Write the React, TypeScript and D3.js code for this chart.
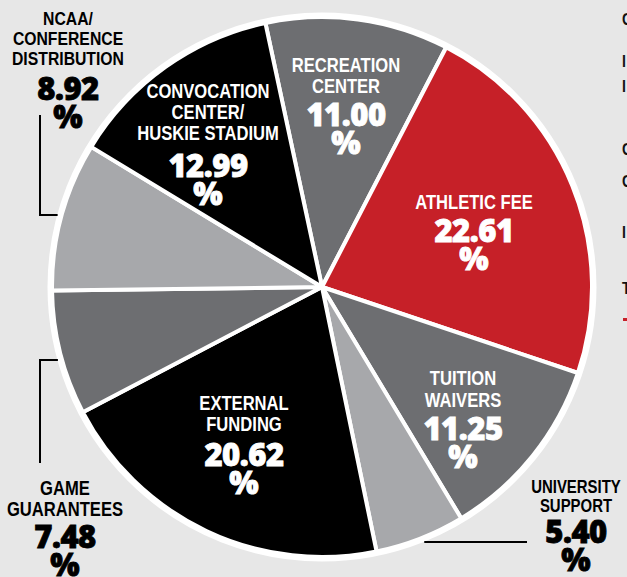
import React from "react";
import * as d3 from "d3";

// ---- data ----
const categories = [
  "RECREATION CENTER",
  "ATHLETIC FEE",
  "TUITION WAIVERS",
  "UNIVERSITY SUPPORT",
  "EXTERNAL FUNDING",
  "GAME GUARANTEES",
  "NCAA/CONFERENCE DISTRIBUTION",
  "CONVOCATION CENTER/HUSKIE STADIUM",
];
const values = [11.0, 22.61, 11.25, 5.4, 20.62, 7.48, 8.92, 12.99];
const labelLines = [
  ["RECREATION", "CENTER"],
  ["ATHLETIC FEE"],
  ["TUITION", "WAIVERS"],
  ["UNIVERSITY", "SUPPORT"],
  ["EXTERNAL", "FUNDING"],
  ["GAME", "GUARANTEES"],
  ["NCAA/", "CONFERENCE", "DISTRIBUTION"],
  ["CONVOCATION", "CENTER/", "HUSKIE STADIUM"],
];
const legendLetters = ["C", "I", "I", "C", "C", "I", "T"];

// ---- layout / style ----
const W = 627;
const H = 577;
const CX = 322;
const CY = 287;
const R = 270;
const START_DEG = -12.1;
const BG = "#e7e7e7";
const colors = ["#6d6e71", "#c62028", "#6d6e71", "#a7a8ab", "#000000", "#6d6e71", "#a7a8ab", "#000000"];
const inside = [true, true, true, false, true, false, false, true];
// anchor = first-line baseline (center x)
const anchors: [number, number][] = [
  [346, 72],
  [474, 209],
  [463, 385],
  [576, 493],
  [244, 410],
  [65, 495],
  [68, 25],
  [208, 98],
];
const lineFont = [20, 20, 20, 18, 20, 20, 19, 20];
const lineGap = [20.5, 20.5, 21.5, 19, 20.5, 20.5, 20, 21];
const numGap = [33, 33, 33, 31, 35, 32, 35, 37];
const pctGap = 28;
const legendBaselines = [25, 67, 92, 155, 187, 238, 294];
const NARROW = 0.83;

const LABEL_FONT = "'Liberation Sans', Arial, sans-serif";
const NUM_FONT = "'Open Sans', Lato, sans-serif";

export default function App() {
  const pie = d3
    .pie<number>()
    .sort(null)
    .value((d) => d)
    .startAngle((START_DEG * Math.PI) / 180)
    .endAngle((START_DEG * Math.PI) / 180 + 2 * Math.PI);
  const arcs = pie(values);
  const arc = d3.arc<d3.PieArcDatum<number>>().innerRadius(0).outerRadius(R);

  const edgeX = (y: number, side: number) => CX + side * Math.sqrt(Math.max(0, (R + 4) ** 2 - (y - CY) ** 2));

  return (
    <svg
      width={W}
      height={H}
      style={{ position: "absolute", left: 0, top: 0, background: BG }}
      viewBox={`0 0 ${W} ${H}`}
    >
      <rect x={0} y={0} width={W} height={H} fill={BG} />
      <g transform={`translate(${CX},${CY})`}>
        <circle r={R + 2} fill="#ffffff" />
        {arcs.map((a, i) => (
          <path key={categories[i]} d={arc(a) || ""} fill={colors[i]} stroke="#ffffff" strokeWidth={4} strokeLinejoin="round" />
        ))}
        <circle r={R + 2} fill="none" stroke="#ffffff" strokeWidth={5} />
      </g>

      {/* leader lines */}
      <g stroke="#000" strokeWidth={2} fill="none">
        <polyline points={`40,115 40,215 ${edgeX(215, -1)},215`} />
        <polyline points={`${edgeX(360, -1)},360 40,360 40,463`} />
        <line x1={edgeX(542, 1) + 2} y1={542} x2={527} y2={542} />
      </g>

      {/* labels */}
      {labelLines.map((lines, i) => {
        const [ax, ay] = anchors[i];
        const fill = inside[i] ? "#ffffff" : "#000000";
        const lastY = ay + (lines.length - 1) * lineGap[i];
        const numY = lastY + numGap[i];
        return (
          <g key={categories[i]} fill={fill} textAnchor="middle">
            {lines.map((ln, j) => (
              <text
                key={j}
                transform={`translate(${ax},${ay + j * lineGap[i]}) scale(${NARROW},1)`}
                fontFamily={LABEL_FONT}
                fontWeight={700}
                fontSize={lineFont[i]}
              >
                {ln}
              </text>
            ))}
            <text
              x={ax}
              y={numY}
              fontFamily={NUM_FONT}
              fontWeight={800}
              fontSize={31}
              stroke={fill}
              strokeWidth={0.8}
              letterSpacing={-0.5}
            >
              {values[i].toFixed(2)}
            </text>
            <text
              x={ax}
              y={numY + pctGap}
              fontFamily={NUM_FONT}
              fontWeight={800}
              fontSize={31}
              stroke={fill}
              strokeWidth={0.8}
            >
              %
            </text>
          </g>
        );
      })}

      {/* cut-off legend on the right */}
      {legendLetters.map((l, i) => (
        <text
          key={i}
          transform={`translate(622,${legendBaselines[i]}) scale(${NARROW},1)`}
          fontFamily={LABEL_FONT}
          fontWeight={700}
          fontSize={17}
          fill="#111"
        >
          {l}
        </text>
      ))}
      <rect x={623} y={318} width={6} height={3} fill="#c62028" />
    </svg>
  );
}
